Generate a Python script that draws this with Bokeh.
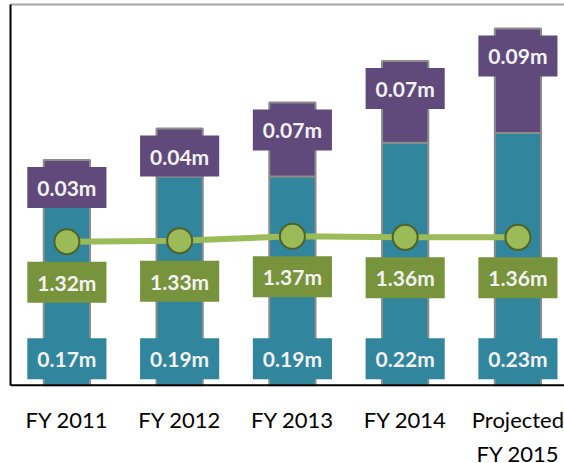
from bokeh.plotting import figure
from bokeh.models import Range1d, FixedTicker, ColumnDataSource, LinearAxis, Span
from bokeh.core.properties import value
from bokeh.embed import file_html
from bokeh.resources import INLINE

# ---- data ----
years = ["FY 2011", "FY 2012", "FY 2013", "FY 2014", "Projected\nFY 2015"]
base_vals = [0.164, 0.192, 0.192, 0.223, 0.232]
top_vals = [0.043, 0.044, 0.068, 0.075, 0.096]
base_labels = ["0.17m", "0.19m", "0.19m", "0.22m", "0.23m"]
top_labels = ["0.03m", "0.04m", "0.07m", "0.07m", "0.09m"]
line_vals = [1.32, 1.33, 1.37, 1.36, 1.36]
line_labels = ["1.32m", "1.33m", "1.37m", "1.36m", "1.36m"]

Y_MAX = 0.35          # primary (bars) axis maximum
Y2_MAX = 3.5          # secondary (line) axis maximum
Y_LOW = -0.0718       # room below zero for the category labels

TEAL = "#31859C"
PURPLE = "#604A7B"
GREEN_BOX = "#77933C"
GREEN_LINE = "#9BBB59"
GREEN_DARK = "#4F6228"
OUTLINE = "#8C8C8C"
LABEL_TXT = "#F2F2F2"
FONT = "Lato"

xs = list(range(len(years)))
stack_top = [a + b for a, b in zip(base_vals, top_vals)]
zeros = [0 for _ in xs]

src = ColumnDataSource(dict(
    x=xs, base=base_vals, top=top_vals, stack_top=stack_top, zero=zeros,
    base_lbl=base_labels, top_lbl=top_labels,
    line=line_vals, line_lbl=line_labels, year=years,
))

p = figure(width=564, height=463, output_backend="svg", toolbar_location=None,
           x_range=Range1d(-0.5, 4.413), y_range=Range1d(Y_LOW, Y_MAX),
           min_border_left=10, min_border_right=0, min_border_top=4, min_border_bottom=0)
p.extra_y_ranges = {"sec": Range1d(Y_LOW * Y2_MAX / Y_MAX, Y2_MAX)}
p.outline_line_color = None
p.background_fill_color = "white"
p.border_fill_color = "white"
p.xgrid.visible = False
p.ygrid.visible = False
p.xaxis.visible = False

# left axis: line only, from 0 to max
p.yaxis.ticker = FixedTicker(ticks=[])
p.yaxis.bounds = (0, Y_MAX)
p.yaxis.axis_line_color = "black"
p.yaxis.axis_line_width = 2
p.yaxis.major_tick_out = 0
p.yaxis.minor_tick_out = 0
p.yaxis.major_label_text_font_size = "0px"
p.yaxis.major_label_standoff = 0

# baseline (category axis line) at zero
p.add_layout(Span(location=0, dimension="width", line_color="black", line_width=2))

# top border line
top_ax = LinearAxis(ticker=FixedTicker(ticks=[]), axis_line_color="#A6A6A6", axis_line_width=2,
                    major_tick_out=0, minor_tick_out=0, major_label_standoff=0,
                    major_label_text_font_size="0px")
p.add_layout(top_ax, "above")

# stacked bars
p.vbar_stack(["base", "top"], x="x", width=0.41, source=src,
             fill_color=[TEAL, PURPLE], line_color=OUTLINE, line_width=2)

# line + markers on secondary scale
p.line("x", "line", source=src, y_range_name="sec", line_color=GREEN_LINE, line_width=6)
p.scatter("x", "line", source=src, y_range_name="sec", size=25,
          fill_color=GREEN_LINE, line_color=GREEN_DARK, line_width=2)

pad = dict(left=10, right=10, top=8, bottom=8)
common = dict(text_font=value(FONT), text_font_style="bold", text_font_size="21px",
              text_color=LABEL_TXT, text_align="center", padding=pad)

# teal labels: inside base
p.text("x", "zero", text="base_lbl", source=src, anchor="bottom_center", y_offset=-6,
       background_fill_color=TEAL, **common)
# purple labels: inside end
p.text("x", "stack_top", text="top_lbl", source=src, anchor="top_center", y_offset=7,
       background_fill_color=PURPLE, **common)
# green labels: below points
p.text("x", "line", text="line_lbl", source=src, y_range_name="sec", anchor="top_center",
       y_offset=20, background_fill_color=GREEN_BOX, **common)

# category labels under the axis line
p.text("x", "zero", text="year", source=src, anchor="top_center", y_offset=21,
       text_align="center", text_font=value(FONT), text_font_size="22px",
       text_color="black", text_line_height=1.25)

open("out.html", "w").write(file_html(p, INLINE))
